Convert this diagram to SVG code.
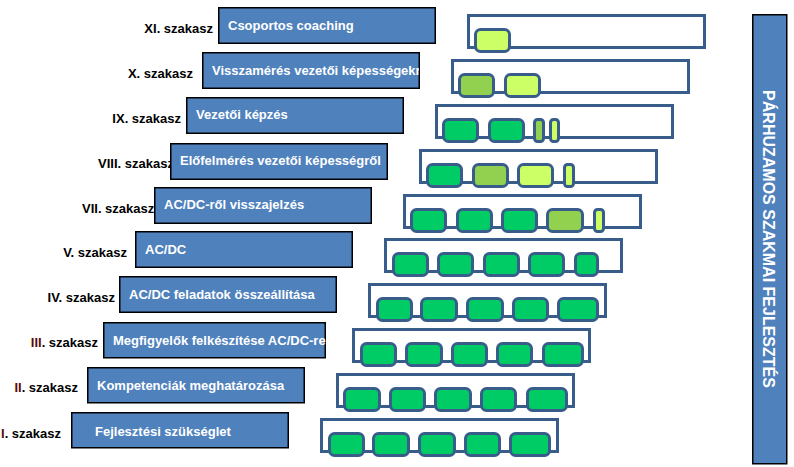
<svg xmlns="http://www.w3.org/2000/svg" width="794" height="467" viewBox="0 0 794 467">
<style>
.lbl{font-family:"Liberation Sans",Arial,sans-serif;font-weight:bold;font-size:13px;fill:#000}
.red{fill:#5a0a0a}
.bt{font-family:"Liberation Sans",Arial,sans-serif;font-weight:bold;font-size:13px;fill:#fff}
.bx{fill:#4F81BD;stroke:#000;stroke-width:1.5}
.tray{fill:#fff;stroke:#385D8A;stroke-width:3}
.g{fill:#00CC66;stroke:#385D8A;stroke-width:3}
.m{fill:#92D050;stroke:#385D8A;stroke-width:3}
.l{fill:#CCFF66;stroke:#385D8A;stroke-width:3}
.vt{font-family:"Liberation Sans",Arial,sans-serif;font-weight:bold;font-size:16px;fill:#fff}
</style>
<defs>
<clipPath id="cX"><rect x="202" y="52" width="217" height="37"/></clipPath>
<clipPath id="cIII"><rect x="103" y="322" width="223" height="36"/></clipPath>
</defs>

<g id="labels">
<text class="lbl" x="213" y="33" text-anchor="end">XI. szakasz</text>
<text class="lbl" x="193" y="78" text-anchor="end">X. szakasz</text>
<text class="lbl" x="181" y="123" text-anchor="end">IX. szakasz</text>
<text class="lbl" x="98" y="168">VIII. szakasz</text>
<text class="lbl" x="82" y="213">VII. szakasz</text>
<text class="lbl" x="127" y="257" text-anchor="end">V. szakasz</text>
<text class="lbl" x="115" y="302" text-anchor="end">IV. szakasz</text>
<text class="lbl" x="98" y="347" text-anchor="end"><tspan class="red">III</tspan>. szakasz</text>
<text class="lbl" x="78" y="392" text-anchor="end"><tspan class="red">II</tspan>. szakasz</text>
<text class="lbl" x="1" y="438"><tspan class="red">I</tspan>. szakasz</text>
</g>

<g id="phase-XI">
<rect class="bx" x="218.75" y="7.75" width="216.5" height="35.5"/>
<text class="bt" x="228" y="30">Csoportos coaching</text>
<rect class="tray" x="468.5" y="15.5" width="236" height="32"/>
<rect class="l" x="475.5" y="29.5" width="34" height="22" rx="5"/>
</g>

<g id="phase-X">
<rect class="bx" x="202.75" y="52.75" width="216.5" height="35.5"/>
<text class="bt" x="212" y="75" clip-path="url(#cX)">Visszamérés vezetői képességekr</text>
<rect class="tray" x="452.5" y="60.5" width="236" height="32"/>
<rect class="m" x="459.5" y="74.5" width="34" height="22" rx="5"/>
<rect class="l" x="505.5" y="74.5" width="34" height="22" rx="5"/>
</g>

<g id="phase-IX">
<rect class="bx" x="186.75" y="97.75" width="216.5" height="35.5"/>
<text class="bt" x="196" y="119">Vezetői képzés</text>
<rect class="tray" x="436.5" y="105.5" width="236" height="32"/>
<rect class="g" x="443.5" y="119.5" width="34" height="22" rx="5"/>
<rect class="g" x="489.5" y="119.5" width="34" height="22" rx="5"/>
<rect class="m" x="534.5" y="119.5" width="9" height="22" rx="3"/>
<rect class="l" x="550.5" y="119.5" width="8" height="22" rx="3"/>
</g>

<g id="phase-VIII">
<rect class="bx" x="170.75" y="143.75" width="216.5" height="35.5"/>
<text class="bt" x="180" y="165">Előfelmérés vezetői képességről</text>
<rect class="tray" x="420.5" y="150.5" width="236" height="32"/>
<rect class="g" x="427.5" y="164.5" width="34" height="22" rx="5"/>
<rect class="m" x="473.5" y="164.5" width="34" height="22" rx="5"/>
<rect class="l" x="518.5" y="164.5" width="34" height="22" rx="5"/>
<rect class="l" x="564.5" y="164.5" width="9" height="22" rx="3"/>
</g>

<g id="phase-VII">
<rect class="bx" x="154.75" y="187.75" width="216.5" height="35.5"/>
<text class="bt" x="164" y="209">AC/DC-ről visszajelzés</text>
<rect class="tray" x="404.5" y="195.5" width="236" height="32"/>
<rect class="g" x="411.5" y="209.5" width="34" height="22" rx="5"/>
<rect class="g" x="457.5" y="209.5" width="34" height="22" rx="5"/>
<rect class="g" x="502.5" y="209.5" width="34" height="22" rx="5"/>
<rect class="m" x="547.5" y="209.5" width="35" height="22" rx="5"/>
<rect class="l" x="594.5" y="209.5" width="9" height="22" rx="3"/>
</g>

<g id="phase-V">
<rect class="bx" x="135.75" y="231.75" width="216.5" height="35.5"/>
<text class="bt" x="145" y="254">AC/DC</text>
<rect class="tray" x="385.5" y="239.5" width="236" height="32"/>
<rect class="g" x="393.5" y="253.5" width="34" height="22" rx="5"/>
<rect class="g" x="438.5" y="253.5" width="34" height="22" rx="5"/>
<rect class="g" x="484.5" y="253.5" width="34" height="22" rx="5"/>
<rect class="g" x="529.5" y="253.5" width="34" height="22" rx="5"/>
<rect class="g" x="575.5" y="253.5" width="22" height="22" rx="5"/>
</g>

<g id="phase-IV">
<rect class="bx" x="119.75" y="276.75" width="216.5" height="35.5"/>
<text class="bt" x="129" y="299">AC/DC feladatok összeállítása</text>
<rect class="tray" x="369.5" y="284.5" width="236" height="32"/>
<rect class="g" x="377.5" y="298.5" width="34" height="22" rx="5"/>
<rect class="g" x="421.5" y="298.5" width="35" height="22" rx="5"/>
<rect class="g" x="467.5" y="298.5" width="35" height="22" rx="5"/>
<rect class="g" x="513.5" y="298.5" width="34" height="22" rx="5"/>
<rect class="g" x="558.5" y="298.5" width="39" height="22" rx="5"/>
</g>

<g id="phase-III">
<rect class="bx" x="103.75" y="322.75" width="221.5" height="35"/>
<text class="bt" x="113" y="345" clip-path="url(#cIII)">Megfigyelők felkészítése AC/DC-re</text>
<rect class="tray" x="353.5" y="329.5" width="236" height="32"/>
<rect class="g" x="361.5" y="343.5" width="34" height="22" rx="5"/>
<rect class="g" x="406.5" y="343.5" width="35" height="22" rx="5"/>
<rect class="g" x="452.5" y="343.5" width="34" height="22" rx="5"/>
<rect class="g" x="497.5" y="343.5" width="34" height="22" rx="5"/>
<rect class="g" x="543.5" y="343.5" width="39" height="22" rx="5"/>
</g>

<g id="phase-II">
<rect class="bx" x="87.75" y="367.75" width="216.5" height="35"/>
<text class="bt" x="97" y="390">Kompetenciák meghatározása</text>
<rect class="tray" x="337.5" y="374.5" width="236" height="32"/>
<rect class="g" x="344.5" y="388.5" width="35" height="22" rx="5"/>
<rect class="g" x="390.5" y="388.5" width="34" height="22" rx="5"/>
<rect class="g" x="435.5" y="388.5" width="35" height="22" rx="5"/>
<rect class="g" x="481.5" y="388.5" width="34" height="22" rx="5"/>
<rect class="g" x="527.5" y="388.5" width="39" height="22" rx="5"/>
</g>

<g id="phase-I">
<rect class="bx" x="71.75" y="412.75" width="216.5" height="35"/>
<text class="bt" x="95" y="436">Fejlesztési szükséglet</text>
<rect class="tray" x="321.5" y="419.5" width="236" height="32"/>
<rect class="g" x="329.5" y="433.5" width="34" height="22" rx="5"/>
<rect class="g" x="373.5" y="433.5" width="35" height="22" rx="5"/>
<rect class="g" x="419.5" y="433.5" width="35" height="22" rx="5"/>
<rect class="g" x="465.5" y="433.5" width="34" height="22" rx="5"/>
<rect class="g" x="510.5" y="433.5" width="39" height="22" rx="5"/>
</g>

<g id="parallel-development">
<rect class="bx" x="752.75" y="14.75" width="34" height="449"/>
<text class="vt" transform="translate(763,239) rotate(90)" text-anchor="middle" x="0" y="0">PÁRHUZAMOS SZAKMAI FEJLESZTÉS</text>
</g>
</svg>
